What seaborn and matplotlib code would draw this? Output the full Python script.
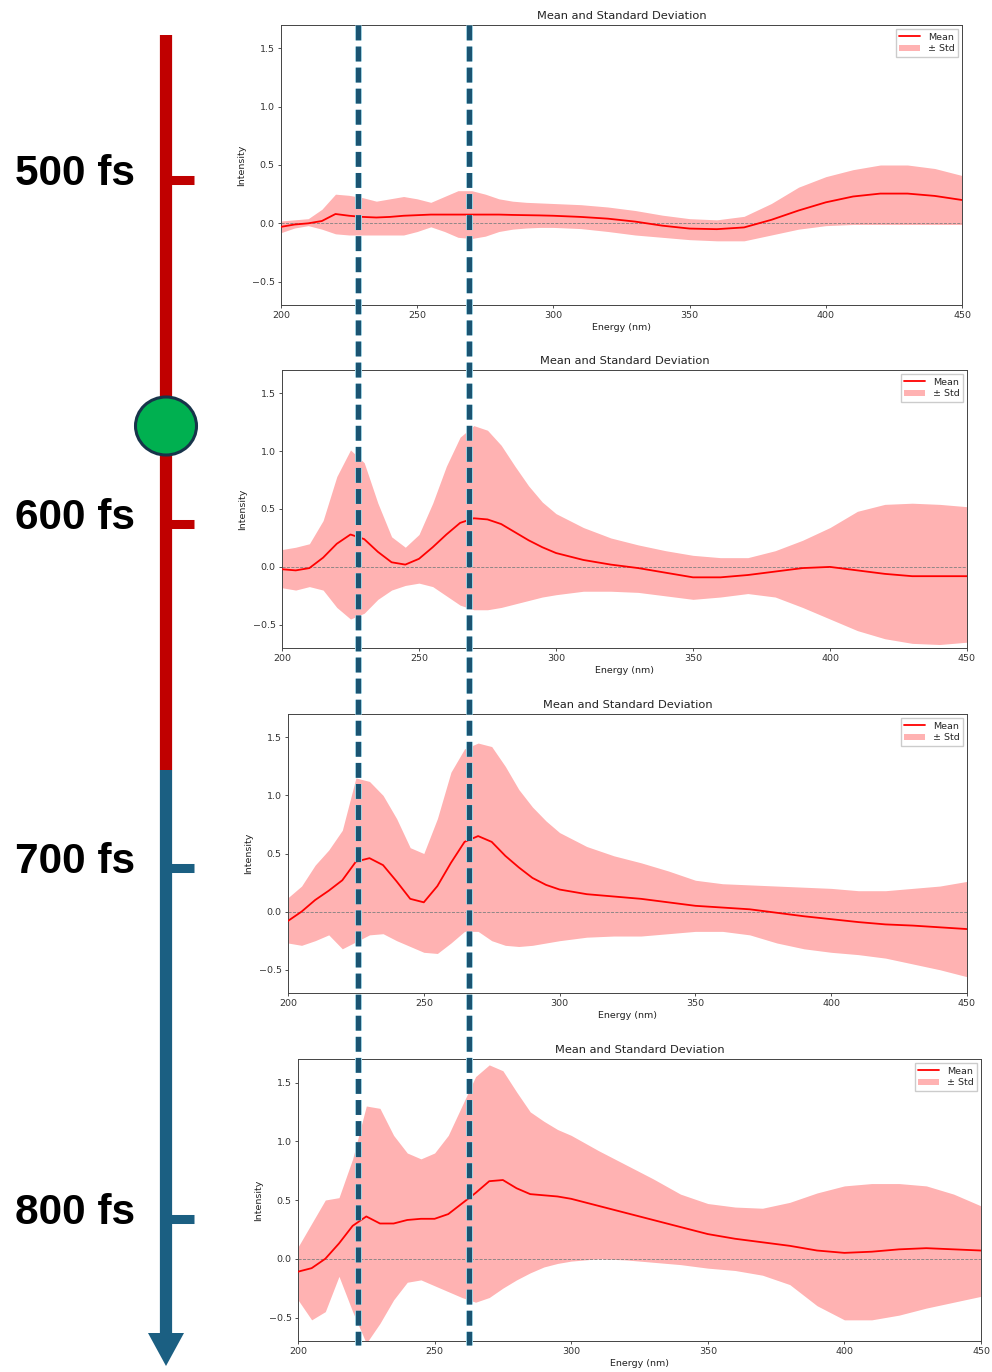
import numpy as np
import matplotlib
matplotlib.use("Agg")
import matplotlib.pyplot as plt
import matplotlib.patheffects as pe
from matplotlib.patches import Polygon, Ellipse
import seaborn as sns

# ---------------------------------------------------------------- data
wavelength = [200, 205, 210, 215, 220, 225, 230, 235, 240, 245, 250, 255, 260,
              265, 270, 275, 280, 285, 290, 295, 300, 310, 320, 330, 340, 350,
              360, 370, 380, 390, 400, 410, 420, 430, 440, 450]

mean_500 = [-0.03, -0.01, 0.0, 0.02, 0.08, 0.065, 0.055, 0.05, 0.055, 0.065, 0.07, 0.075,
            0.075, 0.075, 0.075, 0.075, 0.075, 0.072, 0.07, 0.068, 0.065, 0.055, 0.04,
            0.015, -0.02, -0.045, -0.05, -0.035, 0.03, 0.11, 0.18, 0.23, 0.255, 0.255,
            0.235, 0.20]
upper_500 = [0.02, 0.03, 0.04, 0.12, 0.25, 0.24, 0.22, 0.19, 0.21, 0.23, 0.21, 0.18, 0.23,
             0.28, 0.28, 0.25, 0.21, 0.19, 0.18, 0.175, 0.17, 0.16, 0.14, 0.11, 0.07, 0.04,
             0.03, 0.06, 0.17, 0.31, 0.40, 0.46, 0.50, 0.50, 0.47, 0.41]
lower_500 = [-0.08, -0.04, -0.02, -0.05, -0.09, -0.10, -0.10, -0.10, -0.10, -0.10, -0.07,
             -0.03, -0.07, -0.12, -0.13, -0.11, -0.07, -0.05, -0.04, -0.035, -0.035, -0.045,
             -0.07, -0.10, -0.12, -0.14, -0.15, -0.15, -0.10, -0.05, -0.02, -0.01, -0.01,
             -0.01, -0.01, -0.01]

mean_600 = [-0.02, -0.03, -0.01, 0.08, 0.20, 0.28, 0.24, 0.13, 0.04, 0.02, 0.07, 0.17, 0.28,
            0.38, 0.42, 0.41, 0.37, 0.30, 0.23, 0.17, 0.12, 0.06, 0.02, -0.01, -0.05, -0.09,
            -0.09, -0.07, -0.04, -0.01, 0.0, -0.03, -0.06, -0.08, -0.08, -0.08]
upper_600 = [0.15, 0.17, 0.20, 0.40, 0.78, 1.01, 0.90, 0.55, 0.26, 0.17, 0.28, 0.55, 0.87,
             1.12, 1.22, 1.18, 1.05, 0.87, 0.70, 0.56, 0.46, 0.34, 0.25, 0.19, 0.14, 0.10,
             0.08, 0.08, 0.14, 0.23, 0.34, 0.48, 0.54, 0.55, 0.54, 0.52]
lower_600 = [-0.18, -0.20, -0.17, -0.20, -0.35, -0.45, -0.40, -0.28, -0.20, -0.16, -0.14,
             -0.17, -0.25, -0.33, -0.37, -0.37, -0.35, -0.32, -0.29, -0.26, -0.24, -0.21,
             -0.21, -0.22, -0.25, -0.28, -0.26, -0.23, -0.26, -0.35, -0.45, -0.55, -0.62,
             -0.66, -0.67, -0.65]

mean_700 = [-0.08, 0.0, 0.10, 0.18, 0.27, 0.43, 0.46, 0.40, 0.26, 0.11, 0.08, 0.22, 0.42,
            0.60, 0.65, 0.60, 0.48, 0.38, 0.29, 0.23, 0.19, 0.15, 0.13, 0.11, 0.08, 0.05,
            0.035, 0.02, -0.01, -0.04, -0.065, -0.09, -0.11, -0.12, -0.135, -0.15]
upper_700 = [0.12, 0.22, 0.40, 0.53, 0.70, 1.15, 1.12, 1.00, 0.80, 0.55, 0.50, 0.80, 1.20,
             1.40, 1.45, 1.42, 1.25, 1.05, 0.90, 0.78, 0.68, 0.56, 0.48, 0.42, 0.35, 0.27,
             0.24, 0.23, 0.22, 0.21, 0.20, 0.18, 0.18, 0.20, 0.22, 0.26]
lower_700 = [-0.27, -0.29, -0.25, -0.20, -0.32, -0.26, -0.20, -0.19, -0.25, -0.30, -0.35,
             -0.36, -0.27, -0.17, -0.17, -0.25, -0.29, -0.30, -0.29, -0.27, -0.25, -0.22,
             -0.21, -0.21, -0.19, -0.17, -0.17, -0.20, -0.27, -0.32, -0.35, -0.37, -0.40,
             -0.45, -0.50, -0.56]

mean_800 = [-0.11, -0.08, 0.0, 0.13, 0.28, 0.36, 0.30, 0.30, 0.33, 0.34, 0.34, 0.38, 0.47,
            0.56, 0.66, 0.67, 0.60, 0.55, 0.54, 0.53, 0.51, 0.45, 0.39, 0.33, 0.27, 0.21,
            0.17, 0.14, 0.11, 0.07, 0.05, 0.06, 0.08, 0.09, 0.08, 0.07]
upper_800 = [0.10, 0.30, 0.50, 0.52, 0.85, 1.30, 1.28, 1.05, 0.90, 0.85, 0.90, 1.05, 1.30,
             1.55, 1.65, 1.60, 1.42, 1.25, 1.17, 1.10, 1.05, 0.92, 0.80, 0.68, 0.55, 0.47,
             0.44, 0.43, 0.48, 0.56, 0.62, 0.64, 0.64, 0.62, 0.55, 0.45]
lower_800 = [-0.35, -0.52, -0.45, -0.15, -0.45, -0.72, -0.55, -0.35, -0.20, -0.18, -0.23,
             -0.28, -0.33, -0.37, -0.33, -0.25, -0.18, -0.12, -0.07, -0.04, -0.02, 0.0,
             -0.01, -0.03, -0.05, -0.08, -0.10, -0.14, -0.22, -0.40, -0.52, -0.52, -0.48,
             -0.42, -0.37, -0.32]

time_labels = ["500 fs", "600 fs", "700 fs", "800 fs"]
x_ticks = [200, 250, 300, 350, 400, 450]
y_ticks = [-0.5, 0.0, 0.5, 1.0, 1.5]

# ---------------------------------------------------------------- style
sns.set_style("ticks")
plt.rcParams["font.family"] = ["DejaVu Sans"]

W, H = 992, 1372
fig = plt.figure(figsize=(W / 100, H / 100), dpi=100)
fig.patch.set_facecolor("white")


def axes_px(left, top, right, bottom):
    return fig.add_axes([left / W, 1 - bottom / H, (right - left) / W, (bottom - top) / H])


panel_boxes = [(281, 25, 962, 305), (282, 370, 967, 648),
               (288, 714, 967, 993), (298, 1059, 981, 1341)]
series = [(mean_500, upper_500, lower_500), (mean_600, upper_600, lower_600),
          (mean_700, upper_700, lower_700), (mean_800, upper_800, lower_800)]

for box, (mean, hi, lo) in zip(panel_boxes, series):
    ax = axes_px(*box)
    ax.fill_between(wavelength, lo, hi, color="red", alpha=0.3, linewidth=0,
                    label="\u00b1 Std", zorder=1)
    sns.lineplot(x=wavelength, y=mean, ax=ax, color="red", linewidth=1.3,
                 label="Mean", zorder=3)
    ax.axhline(0, color="gray", linestyle="--", linewidth=0.6, zorder=2)
    ax.set_xlim(200, 450)
    ax.set_ylim(-0.7, 1.7)
    ax.set_xticks(x_ticks)
    ax.set_yticks(y_ticks)
    ax.tick_params(labelsize=6.8, length=2.5, width=0.6, pad=2, colors="#333333")
    for s in ax.spines.values():
        s.set_linewidth(0.7)
        s.set_color("#444444")
    ax.set_title("Mean and Standard Deviation", fontsize=8.2, pad=4, color="#222222")
    ax.set_xlabel("Energy (nm)", fontsize=6.8, labelpad=2, color="#222222")
    ax.set_ylabel("Intensity", fontsize=6.8, labelpad=4, color="#222222")
    handles, labels = ax.get_legend_handles_labels()
    order = [labels.index("Mean"), labels.index("\u00b1 Std")]
    ax.legend([handles[i] for i in order], [labels[i] for i in order],
              loc="upper right", fontsize=6.8, frameon=True, fancybox=False,
              edgecolor="#cccccc", framealpha=1, borderpad=0.4, handlelength=2.2,
              labelspacing=0.3, borderaxespad=0.4)

# ---------------------------------------------------------------- overlay: timeline + guides
ov = fig.add_axes([0, 0, 1, 1], zorder=10)
ov.set_xlim(0, W)
ov.set_ylim(H, 0)
ov.axis("off")
ov.patch.set_alpha(0)

red = "#c00000"
blue = "#1b5f82"
axis_x = 166

ov.plot([axis_x, axis_x], [35, 770], color=red, lw=8.8, solid_capstyle="butt")
ov.plot([axis_x, axis_x], [770, 1338], color=blue, lw=8.8, solid_capstyle="butt")
ov.add_patch(Polygon([(axis_x - 18, 1333), (axis_x + 18, 1333), (axis_x, 1366)],
                     closed=True, facecolor=blue, edgecolor="none"))

tick_y = [180, 524, 868, 1219]
tick_colors = [red, red, blue, blue]
for y, c, lab in zip(tick_y, tick_colors, time_labels):
    ov.plot([axis_x, 194], [y, y], color=c, lw=6.5, solid_capstyle="butt")
    ov.text(135, y - 6, lab, ha="right", va="center", fontsize=30.5,
            fontweight="bold", family="Liberation Sans", color="black")

ov.add_patch(Ellipse((axis_x, 426), 61, 58, facecolor="#00b050",
                     edgecolor="#17344a", linewidth=2.2, zorder=5))

for gx in (358, 469):
    ov.plot([gx, gx], [25, 1345], color="#1b5472", lw=3.7, dashes=(2.9, 1.2),
            solid_capstyle="butt", dash_capstyle="butt",
            path_effects=[pe.withStroke(linewidth=5.0, foreground="#a8dbea")])

fig.savefig("out.png", dpi=100, facecolor="white")
